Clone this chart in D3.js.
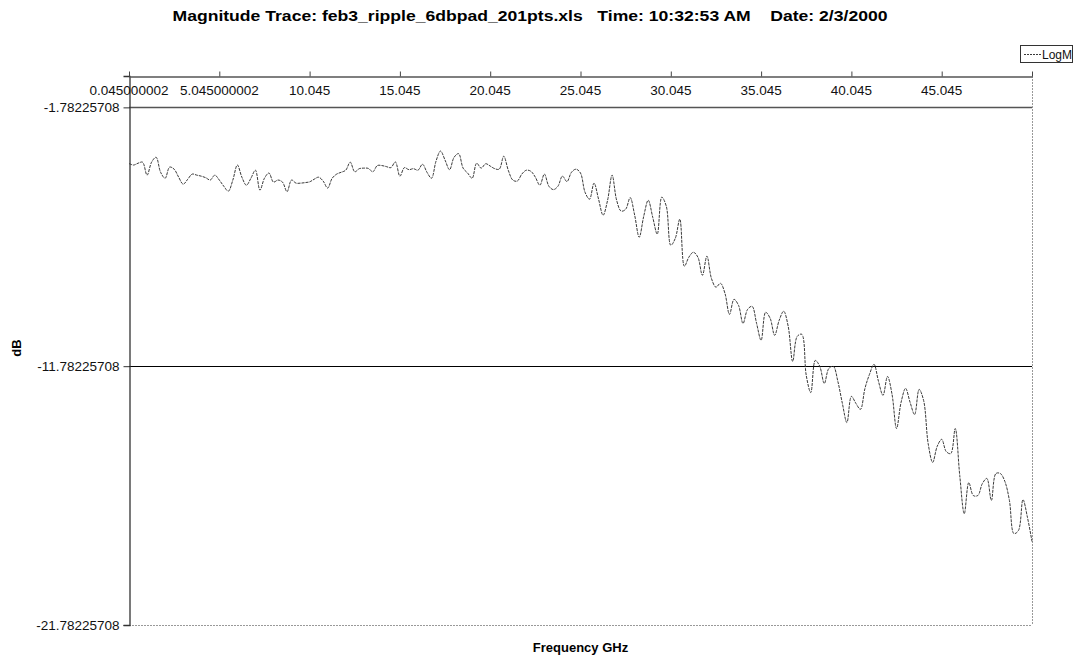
<!DOCTYPE html>
<html><head><meta charset="utf-8">
<script src="https://cdn.jsdelivr.net/npm/d3@7"></script>
<style>
body{margin:0;background:#fff}
svg{display:block}
text{font-family:"Liberation Sans",Arial,sans-serif;white-space:pre}
</style>
</head><body>
<svg id="c" width="1076" height="657"></svg>
<script>
const chartTitle = "Magnitude Trace: feb3_ripple_6dbpad_201pts.xls   Time: 10:32:53 AM    Date: 2/3/2000";
const xTitle = "Frequency GHz";
const yTitle = "dB";
const seriesName = "LogM";

// 201 frequency points, 0.045 GHz to 50.045 GHz
const freqStart = 0.045, freqStep = 0.25, nPoints = 201;
const categories = d3.range(nPoints).map(i => +(freqStart + i * freqStep).toFixed(3));

const logM = [
 -3.95,-4.01,-3.94,-3.90,-4.40,-3.90,-3.71,-4.29,-4.52,-4.09,
 -4.17,-4.48,-4.75,-4.56,-4.36,-4.40,-4.44,-4.50,-4.59,-4.40,
 -4.59,-4.83,-5.02,-4.59,-4.01,-4.48,-4.79,-4.52,-4.21,-4.98,
 -4.52,-4.32,-4.67,-4.59,-4.67,-5.04,-4.59,-4.71,-4.71,-4.69,
 -4.66,-4.56,-4.48,-4.63,-4.90,-4.52,-4.36,-4.29,-4.21,-3.90,
 -4.27,-4.15,-4.13,-4.14,-4.27,-4.03,-4.03,-4.07,-4.11,-3.89,
 -4.44,-4.11,-4.19,-4.15,-4.21,-3.98,-4.29,-4.52,-3.86,-3.47,
 -3.82,-4.19,-3.71,-3.57,-4.13,-4.32,-4.52,-3.94,-4.13,-3.96,
 -4.05,-4.15,-4.17,-3.67,-4.21,-4.59,-4.63,-4.36,-4.21,-4.25,
 -4.48,-4.79,-4.36,-4.83,-4.96,-4.83,-4.44,-4.65,-4.29,-4.17,
 -4.32,-5.06,-5.33,-4.71,-5.33,-5.95,-5.37,-4.40,-5.37,-5.79,
 -5.72,-5.27,-5.95,-6.80,-5.99,-5.37,-6.03,-6.68,-5.25,-5.60,
 -7.11,-6.84,-6.10,-7.92,-7.57,-7.38,-7.57,-8.27,-7.53,-8.39,
 -8.73,-8.58,-8.97,-9.78,-9.20,-9.43,-10.13,-9.59,-9.47,-10.13,
 -10.78,-9.70,-9.93,-10.59,-10.01,-9.66,-10.24,-11.60,-10.63,-10.55,
 -12.14,-12.80,-11.56,-11.79,-12.45,-11.87,-11.79,-12.37,-13.22,-13.96,
 -12.95,-13.22,-13.45,-12.64,-12.10,-11.71,-12.37,-12.91,-12.18,-12.87,
 -14.19,-13.18,-12.64,-13.18,-13.65,-12.68,-13.11,-14.77,-15.50,-14.88,
 -14.61,-15.08,-15.16,-14.19,-16.01,-17.48,-16.28,-16.78,-16.78,-16.32,
 -16.12,-16.97,-15.93,-15.93,-16.24,-16.97,-18.25,-18.13,-16.94,-17.63,
 -18.56
];

const xTickEvery = 20;
const xTickLabels = ["0.045000002","5.045000002","10.045","15.045","20.045","25.045","30.045","35.045","40.045","45.045"];
const yTicks = [-21.78225708, -11.78225708, -1.78225708];
const yTickLabels = ["-21.78225708","-11.78225708","-1.78225708"];
const yMin = -21.78225708, yMax = -0.57;

const svg = d3.select("#c");
const L = 129, R = 1032, T = 76, B = 625;

const x = d3.scaleLinear().domain([0, nPoints - 1]).range([L, R]);
const y = d3.scaleLinear().domain([yMin, yMax]).range([B, T]);

// title
svg.append("text").attr("x", 530).attr("y", 21).attr("text-anchor", "middle")
  .attr("font-size", 15).attr("font-weight", "bold")
  .attr("textLength", 715).attr("lengthAdjust", "spacingAndGlyphs").text(chartTitle);

// plot area border (dotted gray) right and bottom
svg.append("line").attr("x1", R + 0.5).attr("x2", R + 0.5).attr("y1", T).attr("y2", B)
  .attr("stroke", "#999").attr("stroke-dasharray", "2,1");
svg.append("line").attr("x1", L).attr("x2", R).attr("y1", B + 0.5).attr("y2", B + 0.5)
  .attr("stroke", "#999").attr("stroke-dasharray", "2,1");

// gridlines
svg.append("g").selectAll("line").data(yTicks.filter(v => v > yMin)).join("line")
  .attr("x1", L).attr("x2", R).attr("y1", d => Math.round(y(d)) + 0.5).attr("y2", d => Math.round(y(d)) + 0.5)
  .attr("stroke", (d, i) => i === 1 ? "#555" : "#000").attr("stroke-width", (d, i) => i === 1 ? 1.6 : 1);

// y axis
const yAxis = d3.axisLeft(y).tickValues(yTicks).tickFormat((d, i) => yTickLabels[i]).tickSize(6).tickPadding(4);
const gy = svg.append("g").attr("transform", `translate(${L + 0.5},0)`).call(yAxis);
gy.select(".domain").attr("stroke", "#333").attr("stroke-width", 1.3);
gy.selectAll(".tick line").attr("stroke", "#333");
gy.selectAll("text").attr("font-size", 13.5).attr("fill", "#111").attr("font-family", "Liberation Sans, Arial, sans-serif");

// x axis at top (category axis)
const tickIdx = d3.range(0, nPoints, xTickEvery);
const xAxis = d3.axisTop(x).tickValues(tickIdx).tickFormat(() => "").tickSize(5).tickSizeOuter(0);
const gx = svg.append("g").attr("transform", `translate(0,${T + 0.5})`).call(xAxis);
gx.select(".domain").attr("stroke", "#555").attr("stroke-width", 1.5);
gx.selectAll(".tick line").attr("stroke", "#444");
svg.append("g").selectAll("text").data(xTickLabels).join("text")
  .attr("x", (d, i) => x(tickIdx[i])).attr("y", T + 19).attr("text-anchor", "middle")
  .attr("font-size", 13.5).attr("fill", "#111").text(d => d);

// data line
const line = d3.line().x((d, i) => x(i)).y(d => y(d)).curve(d3.curveCatmullRom.alpha(0.5));
svg.append("path").datum(logM).attr("d", line).attr("fill", "none")
  .attr("stroke", "#3a3a3a").attr("stroke-width", 1).attr("stroke-dasharray", "3,1");

// axis titles
svg.append("text").attr("x", (L + R) / 2).attr("y", 652).attr("text-anchor", "middle")
  .attr("font-size", 13).attr("font-weight", "bold").text(xTitle);
svg.append("text").attr("transform", "translate(21,348) rotate(-90)").attr("text-anchor", "middle")
  .attr("font-size", 13).attr("font-weight", "bold").text(yTitle);

// legend
const lg = svg.append("g").attr("transform", "translate(1020,45)");
lg.append("rect").attr("x", 0.5).attr("y", 0.5).attr("width", 52).attr("height", 17)
  .attr("fill", "#fff").attr("stroke", "#333");
lg.append("line").attr("x1", 4).attr("x2", 21).attr("y1", 9.5).attr("y2", 9.5)
  .attr("stroke", "#3a3a3a").attr("stroke-dasharray", "2,1");
lg.append("text").attr("x", 22).attr("y", 14).attr("font-size", 12).attr("fill", "#111").text(seriesName);
</script>
</body></html>
